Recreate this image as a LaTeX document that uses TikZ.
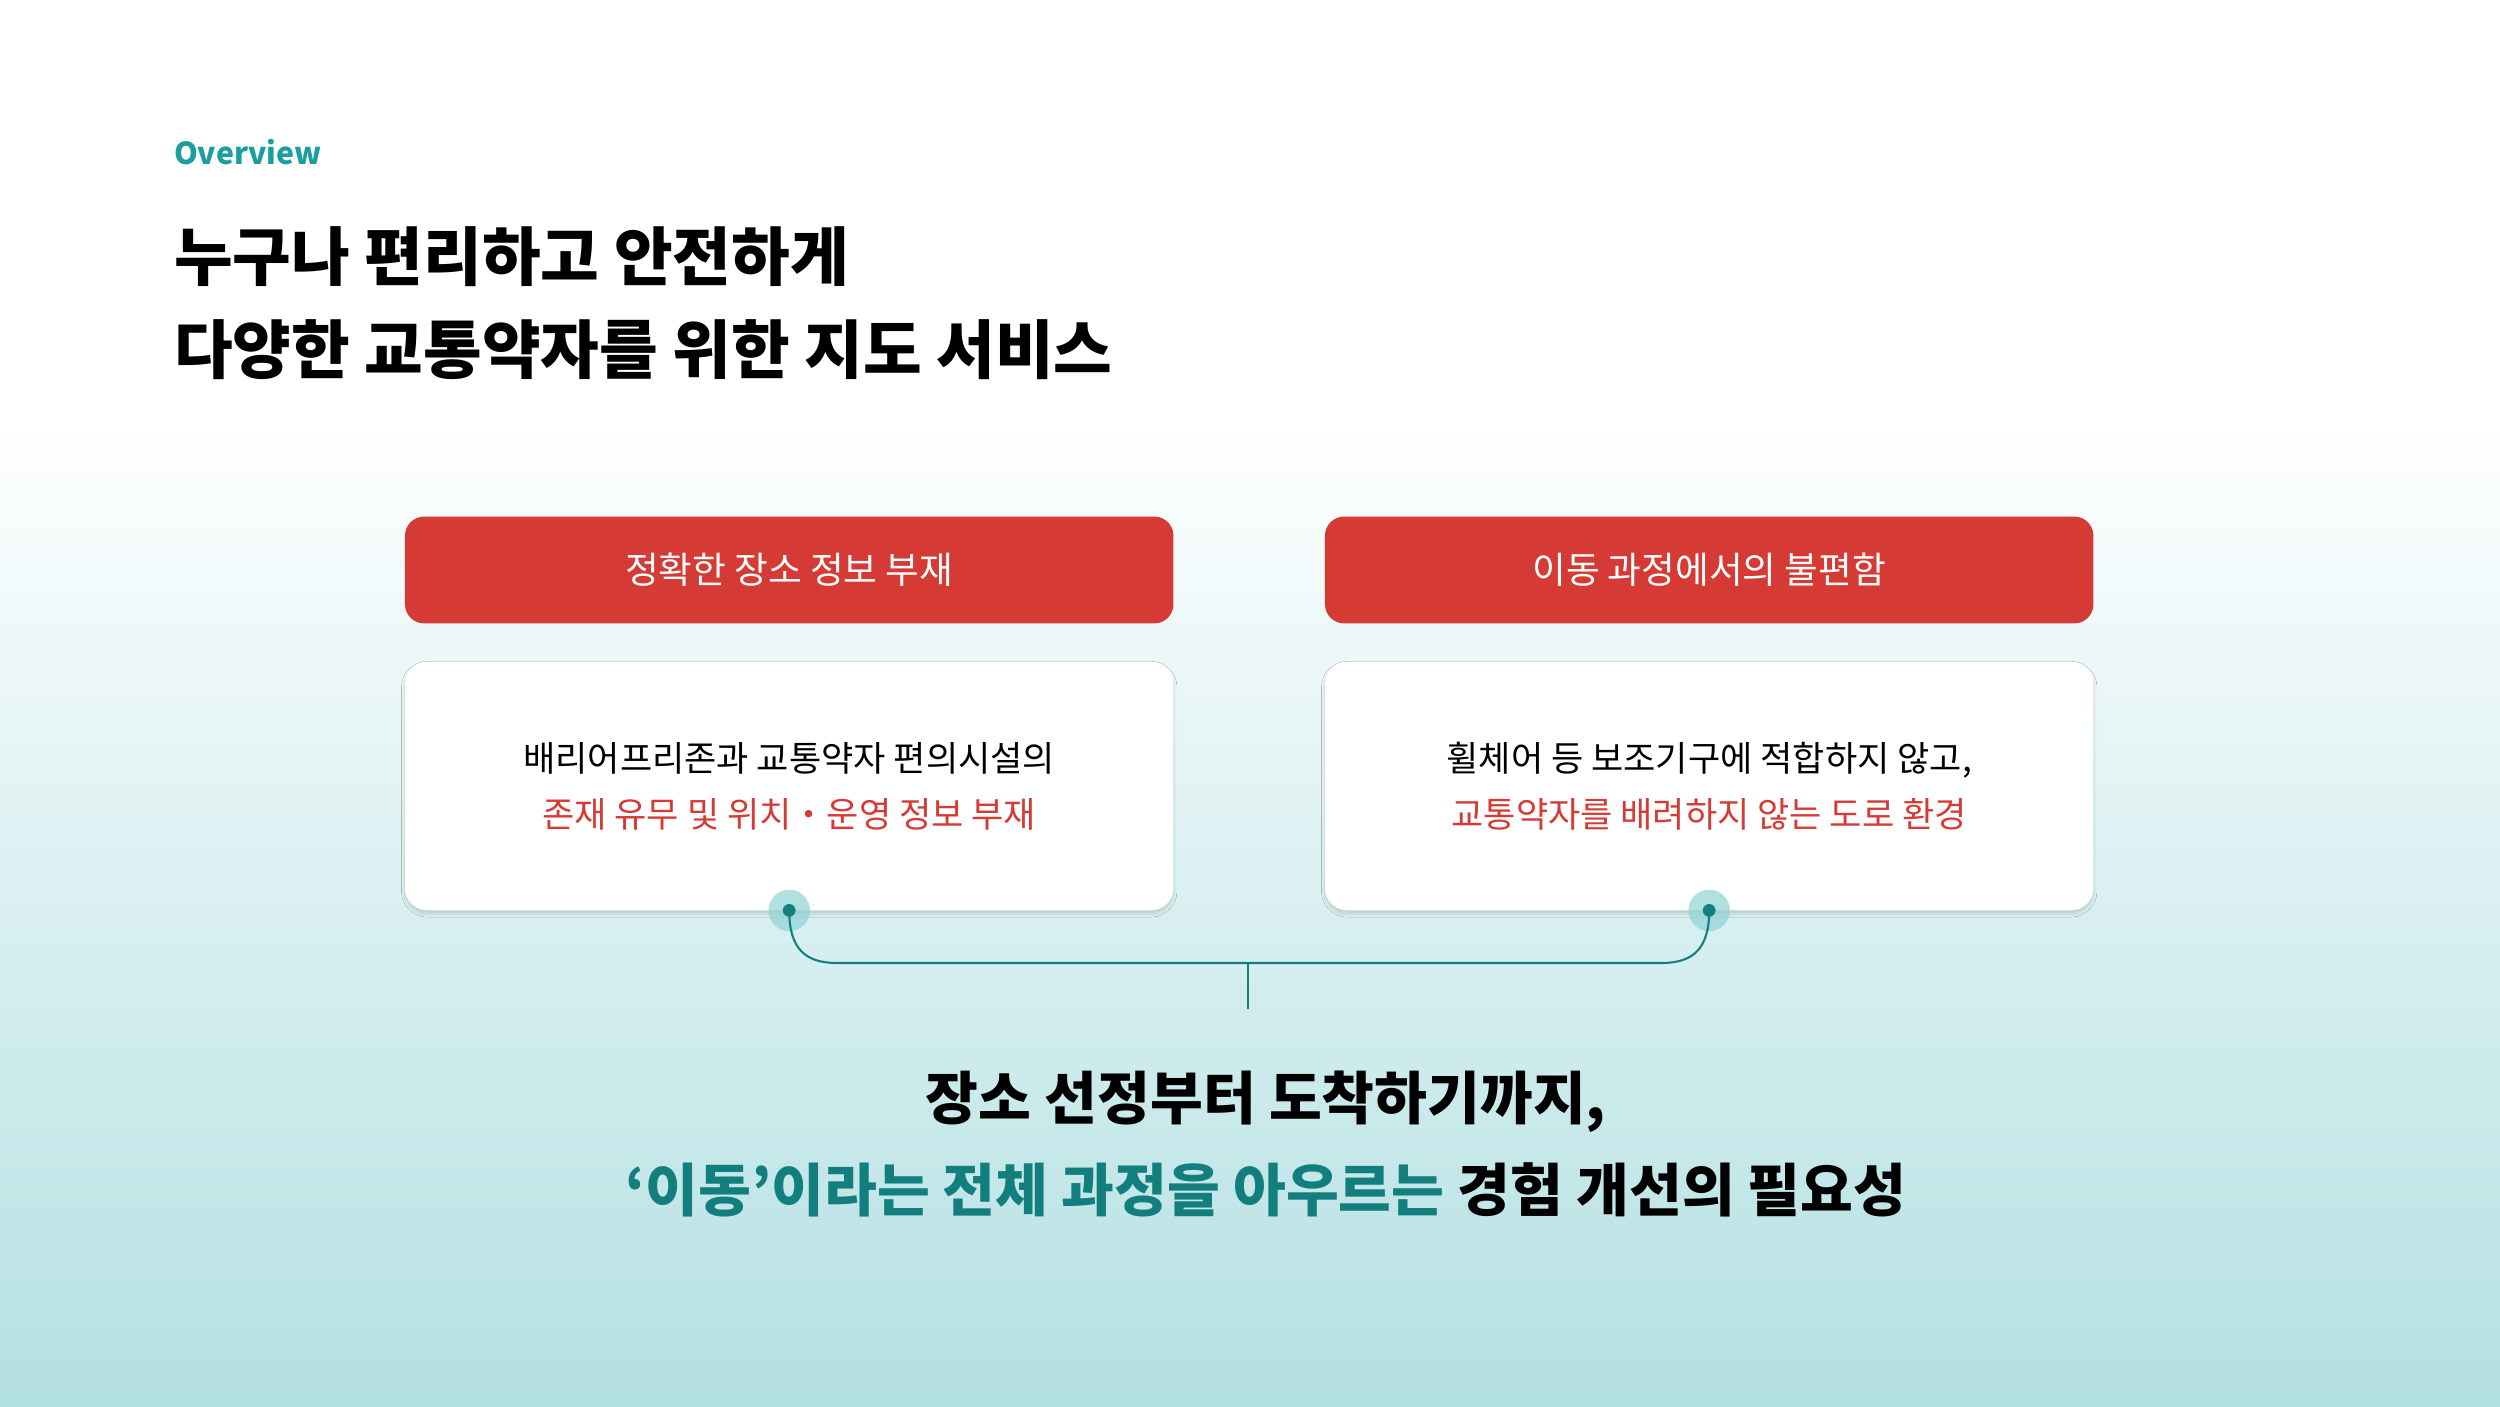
\documentclass[tikz,border=0pt]{standalone}
\usepackage{fontspec}
\setmainfont{Noto Sans CJK KR}
\usetikzlibrary{shadows.blur}
\definecolor{teal1}{HTML}{1A9E9E}
\definecolor{teal2}{HTML}{137E7E}
\definecolor{redb}{HTML}{D63A35}
\definecolor{bgb}{HTML}{B3E0E2}
\definecolor{glow}{HTML}{8FD3D4}
\tikzset{x=1pt,y=-1pt,
 redbox/.style={fill=redb,rounded corners=12pt,minimum width=482pt,minimum height=67pt,text=white,font=\fontsize{23}{28}\selectfont},
 whitebox/.style={fill=white,rounded corners=14pt,minimum width=482pt,minimum height=156pt,align=center,font=\fontsize{22}{35}\selectfont,blur shadow={shadow xshift=0pt,shadow yshift=-2pt,shadow blur steps=8,shadow opacity=15}},
 glowdot/.style={circle,fill=glow,minimum size=26pt,inner sep=0,opacity=0.7},
 dot/.style={circle,fill=teal2,minimum size=8pt,inner sep=0},
 conn/.style={draw=teal2,line width=1.3pt}}
\begin{document}
\begin{tikzpicture}
\useasboundingbox (0,0) rectangle (1568,882);
\fill[white] (0,0) rectangle (1568,260);
\shade[top color=white,bottom color=bgb] (0,260) rectangle (1568,882);
\node[anchor=base west,text=teal1,font=\bfseries\fontsize{19}{22}\selectfont,inner sep=0] (ov) at (109,103) {Overview};
\node[anchor=base west,font=\bfseries\fontsize{40}{58}\selectfont,inner sep=0,align=left] (t1) at (109,176) {누구나 편리하고 안전하게};
\node[anchor=base west,font=\bfseries\fontsize{40}{58}\selectfont,inner sep=0,align=left] (t2) at (109,234) {다양한 교통약자를 위한 지도 서비스};
\node[redbox] (r1) at (495,357.5) {정확한 장소 정보 부재};
\node[redbox] (r2) at (1072,357.5) {이동 과정에서의 불편함};
\node[whitebox] (w1) at (495,493) {배리어프리존과 교통약자 편의시설의\\\textcolor{redb}{존재 유무 및 위치・운영 정보 부재}};
\node[whitebox] (w2) at (1072,493) {휠체어 등 보조기구에 적합하지 않고,\\\textcolor{redb}{교통약자를 배려하지 않는 도로 환경}};
\node[glowdot] (g1) at (495,571) {};
\node[glowdot] (g2) at (1072,571) {};
\node[dot] (d1) at (495,571) {};
\node[dot] (d2) at (1072,571) {};
\coordinate (m) at (783,604);
\coordinate (mb) at (783,633);
\draw[conn] (d1.center) .. controls (495,595) and (505,604) .. (525,604) -- (1042,604) .. controls (1062,604) and (1072,595) .. (d2.center);
\draw[conn] (m) -- (mb);
\node[anchor=base,font=\bfseries\fontsize{36}{40}\selectfont,inner sep=0] (b1) at (794,702) {장소 선정부터 도착하기까지,};
\node[anchor=base,font=\bfseries\fontsize{36}{40}\selectfont,inner sep=0] (b2) at (794,760) {\textcolor{teal2}{‘이동’이라는 전체 과정을 아우르는} 경험 개선의 필요성};
\end{tikzpicture}
\end{document}
